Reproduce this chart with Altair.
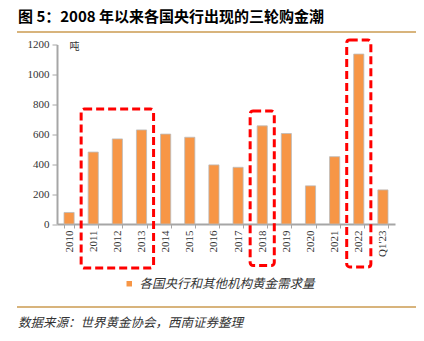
import altair as alt
import pandas as pd

categories = ["2010", "2011", "2012", "2013", "2014", "2015", "2016", "2017",
              "2018", "2019", "2020", "2021", "2022", "Q1'23"]
values = [77, 481, 569, 629, 601, 580, 395, 379, 656, 605, 255, 450, 1136, 228]
series_name = "各国央行和其他机构黄金需求量"

box_start = ["2011", "2018", "2022"]
box_end = ["2013", "2018", "2022"]
box_top = [769, 755, 1230]
box_bottom = [-294, -278, -287]

y_ticks = [0, 200, 400, 600, 800, 1000, 1200]

title_text = "图 5：2008 年以来各国央行出现的三轮购金潮"
source_text = "数据来源：世界黄金协会，西南证券整理"
unit_text = "吨"

df = pd.DataFrame({"cat": categories, "val": values, "series": series_name})
boxes = pd.DataFrame({"s": box_start, "e": box_end, "t": box_top, "b": box_bottom})

serif = "Liberation Serif"
cjk = "Noto Sans CJK SC"

xscale = alt.Scale(domain=categories, paddingInner=0.58, paddingOuter=0.29)
xscale_box = alt.Scale(domain=categories, paddingInner=0, paddingOuter=0)
yscale = alt.Scale(domain=[0, 1200])

yaxis = alt.Axis(values=y_ticks, format="d",
                 grid=False, labelOverlap=False, labelFlush=False,
                 title=unit_text, titleAngle=0, titleX=12, titleY=2,
                 titleAlign="left", titleBaseline="middle",
                 titleFont=cjk, titleFontSize=10, titleFontWeight="normal",
                 titleColor="#333333",
                 labelFont=serif, labelFontSize=11, labelColor="#333333",
                 domainColor="#A6A6A6", domainWidth=2,
                 tickColor="#A6A6A6", tickSize=5, labelPadding=3)

bars = alt.Chart(df).mark_bar(stroke="#BBBBBB", strokeWidth=0.8).encode(
    x=alt.X("cat:N", scale=xscale, sort=categories,
            axis=alt.Axis(title=None, labelAngle=-90, labelFont=serif, labelFontSize=11,
                          labelColor="#333333", domainColor="#A6A6A6", domainWidth=2,
                          tickColor="#A6A6A6", tickSize=4, tickBand="extent",
                          labelPadding=2)),
    y=alt.Y("val:Q", scale=yscale, axis=yaxis),
    color=alt.Color("series:N", scale=alt.Scale(range=["#F79646"]),
                    legend=alt.Legend(title=None, orient="none", legendX=66, legendY=233,
                                      symbolType="square", symbolSize=30,
                                      symbolStrokeWidth=0, labelFont=cjk,
                                      labelFontSize=12.5, labelColor="#333333",
                                      labelFontStyle="italic", labelOffset=4, padding=0,
                                      labelLimit=0)),
)

rects = alt.Chart(boxes).mark_rect(
    fill=None, fillOpacity=0, stroke="#FF0000", strokeWidth=3, strokeDash=[8, 4],
    cornerRadius=3, clip=False
).encode(
    x=alt.X("s:N", scale=xscale_box, sort=categories, bandPosition=0, axis=None),
    x2=alt.X2("e:N", bandPosition=1),
    y=alt.Y("t:Q", scale=yscale, axis=yaxis),
    y2=alt.Y2("b:Q"),
)

one = pd.DataFrame({"k": [0]})

title = alt.Chart(one).mark_text(
    text=title_text, font=cjk, fontSize=15, fontWeight="bold", align="left",
    baseline="middle", color="#000000"
).encode(x=alt.value(-39), y=alt.value(-27.5))

top_line = alt.Chart(one).mark_rule(color="#D8B47C", strokeWidth=2).encode(
    x=alt.value(-40), x2=alt.value(359), y=alt.value(-12.5))

bottom_line = alt.Chart(one).mark_rule(color="#D8B47C", strokeWidth=2).encode(
    x=alt.value(-40), x2=alt.value(359), y=alt.value(262.5))

source = alt.Chart(one).mark_text(
    text=source_text, font=cjk, fontSize=12.5, fontStyle="italic", align="left",
    baseline="middle", color="#333333"
).encode(x=alt.value(-39), y=alt.value(278))

chart = alt.layer(bars, rects, title, top_line, bottom_line, source).resolve_scale(
    x="independent"
).properties(
    width=338, height=179.5,
    padding={"left": 57, "top": 44.5, "right": 29, "bottom": 117},
    autosize=alt.AutoSizeParams(type="none"),
    background="white",
).configure_view(stroke=None)

chart.save("out.html", embed_options={"renderer": "svg", "actions": False})
